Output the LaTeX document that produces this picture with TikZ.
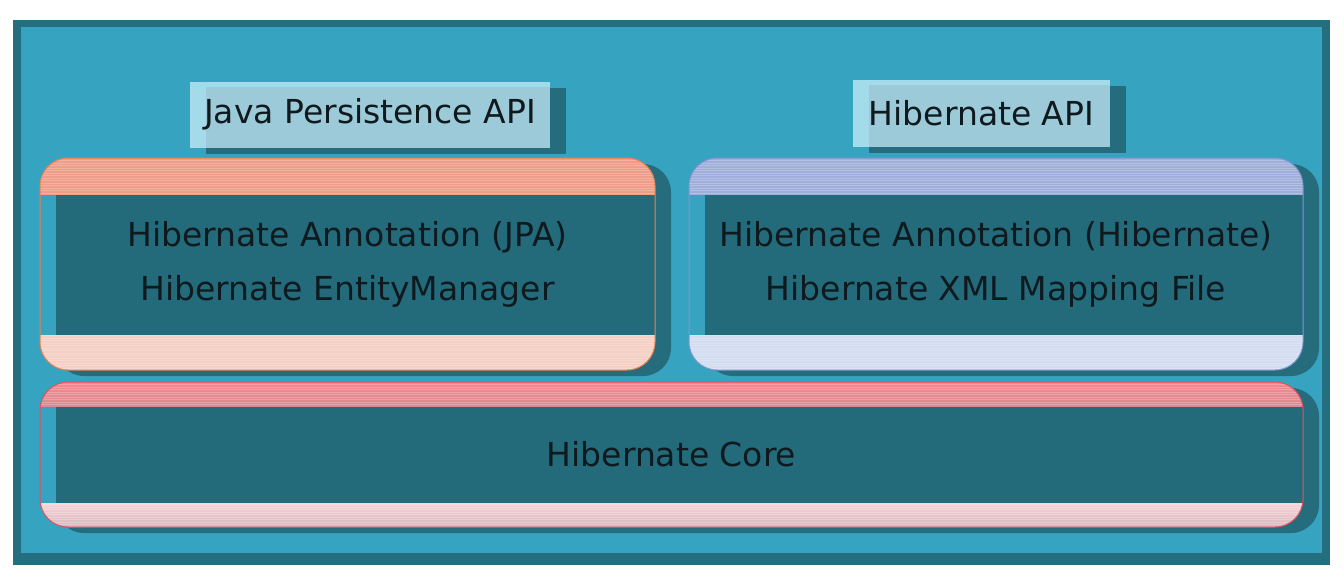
\documentclass[tikz,border=0pt]{standalone}
\usepackage{fontspec}
\setmainfont{DejaVu Sans}
\usetikzlibrary{shadows}

\definecolor{framedark}{HTML}{246E7F}
\definecolor{framefill}{HTML}{36A4C0}
\definecolor{shadowc}{HTML}{256C7C}
\definecolor{panelc}{HTML}{236A7A}
\definecolor{txtc}{HTML}{0F1A1F}
\definecolor{labelc}{HTML}{A3DBEA}
\definecolor{labeldark}{HTML}{9CCAD8}
\definecolor{jpatop}{HTML}{EE9D88}
\definecolor{jpabot}{HTML}{F5CFC3}
\definecolor{jpaline}{HTML}{E8804F}
\definecolor{hibtop}{HTML}{9FAEDA}
\definecolor{hibbot}{HTML}{D3DDF1}
\definecolor{hibline}{HTML}{7F95CF}
\definecolor{corered}{HTML}{F4878B}
\definecolor{coretop}{HTML}{D68C94}
\definecolor{corelight}{HTML}{F6D4D7}
\definecolor{corebot}{HTML}{D9B7BF}
\definecolor{coreline}{HTML}{E2505E}

\tikzset{
  apibox/.style={rectangle, fill=labelc, text=txtc, inner sep=0pt,
    minimum height=66pt, font=\fontsize{33}{40}\selectfont,
    general shadow={fill=shadowc, shadow xshift=16pt, shadow yshift=-6pt},
    path picture={
      \fill[labeldark] ([xshift=16pt,yshift=-5pt]path picture bounding box.north west) rectangle (path picture bounding box.south east);
    }},
  layer/.style n args={4}{rectangle, rounded corners=28pt, fill=framefill, line width=1pt, inner sep=0pt,
    align=center, text=txtc, font=\fontsize{33}{54}\selectfont,
    general shadow={fill=shadowc, shadow xshift=16pt, shadow yshift=-6pt},
    path picture={
      \begin{scope}[sharp corners]
        \fill[#1] (path picture bounding box.north west) rectangle ([yshift=-#3]path picture bounding box.north east);
        \fill[#2] (path picture bounding box.south west) rectangle ([yshift=#4]path picture bounding box.south east);
        \foreach \k in {1,...,90}
          \draw[white, opacity=0.22, line width=0.7pt] ([yshift={-\k*2.5pt}]path picture bounding box.north west) -- ([yshift={-\k*2.5pt}]path picture bounding box.north east);
        \fill[framefill] ([yshift=-#3]path picture bounding box.north west) rectangle ([yshift=#4]path picture bounding box.south east);
        \fill[panelc] ([xshift=16pt,yshift=-#3]path picture bounding box.north west) rectangle ([yshift=#4]path picture bounding box.south east);
      \end{scope}
    }}
}

\begin{document}
\begin{tikzpicture}[x=1pt, y=-1pt]
  \useasboundingbox[fill=white] (0,0) rectangle (1344,582);
  % outer frame
  \fill[framedark] (13,20) rectangle (1330,565);
  \fill[framefill] (21,27) rectangle (1322,553);

  % api labels
  \node (jpaapi)[apibox, minimum width=360pt] at (370,114.5) {Java Persistence API};
  \node (hibapi)[apibox, minimum width=257pt, minimum height=67pt] at (981.5,113) {Hibernate API};

  % layers
  \node (jpa)[layer={fill=jpatop}{fill=jpabot}{37pt}{35pt}, draw=jpaline, minimum width=615pt, minimum height=212pt] at (347.5,264)
    {Hibernate Annotation (JPA)\\Hibernate EntityManager};
  \node (hib)[layer={fill=hibtop}{fill=hibbot}{37pt}{35pt}, draw=hibline, minimum width=614pt, minimum height=212pt] at (996,264)
    {Hibernate Annotation (Hibernate)\\Hibernate XML Mapping File};
  \node (core)[layer={top color=corered, bottom color=coretop}{top color=corelight, bottom color=corebot}{25pt}{24pt},
    draw=coreline, minimum width=1263pt, minimum height=145pt] at (671.5,454.5)
    {Hibernate Core};
\end{tikzpicture}
\end{document}
